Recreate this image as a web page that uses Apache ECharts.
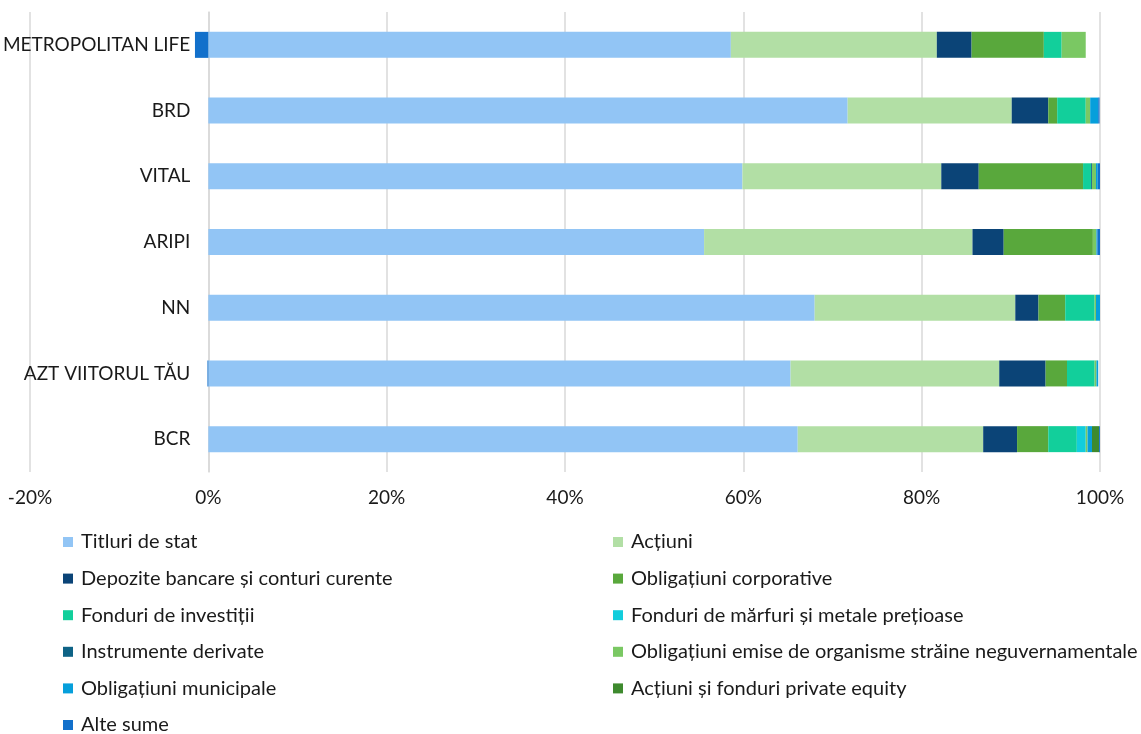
<!DOCTYPE html>
<html>
<head>
<meta charset="utf-8">
<script src="https://cdn.jsdelivr.net/npm/echarts@6/dist/echarts.min.js"></script>
<style>
  html, body { margin: 0; padding: 0; background: #ffffff; }
  #chart { width: 1141px; height: 734px; }
</style>
</head>
<body>
<div id="chart"></div>
<script>
// Pension funds, asset structure (% of total), top to bottom
const categories = ['METROPOLITAN LIFE', 'BRD', 'VITAL', 'ARIPI', 'NN', 'AZT VIITORUL TĂU', 'BCR'];

const titluriDeStat      = [58.6, 71.7, 59.9, 55.6, 68.0, 65.3, 66.1];
const actiuni            = [23.1, 18.4, 22.3, 30.1, 22.5, 23.4, 20.8];
const depozite           = [3.9, 4.1, 4.2, 3.5, 2.6, 5.2, 3.8];
const obligCorporative   = [8.1, 1.0, 11.7, 10.0, 3.0, 2.4, 3.5];
const fonduriInvestitii  = [2.0, 3.2, 0.9, 0, 3.3, 3.1, 3.2];
const fonduriMarfuri     = [0, 0, 0, 0, 0, 0, 1.0];
const instrumenteDerivate = [0, 0, 0.1, 0, 0, 0, 0];
const obligStraine       = [2.7, 0.5, 0.45, 0.4, 0.15, 0.2, 0.2];
const obligMunicipale    = [0, 0.9, 0.2, 0.1, 0.5, 0.2, 0.5];
const privateEquity      = [0, 0, 0, 0, 0, 0, 0.8];
const alteSume           = [-1.5, 0.15, 0.25, 0.3, 0, -0.1, 0.1];

const xTicks = [-20, 0, 20, 40, 60, 80, 100];

const seriesDefs = [
  { name: 'Titluri de stat', data: titluriDeStat, color: '#92C5F5' },
  { name: 'Acțiuni', data: actiuni, color: '#B2DFA5' },
  { name: 'Depozite bancare și conturi curente', data: depozite, color: '#0B4477' },
  { name: 'Obligațiuni corporative', data: obligCorporative, color: '#59A83C' },
  { name: 'Fonduri de investiții', data: fonduriInvestitii, color: '#12CF9B' },
  { name: 'Fonduri de mărfuri și metale prețioase', data: fonduriMarfuri, color: '#12CDDC' },
  { name: 'Instrumente derivate', data: instrumenteDerivate, color: '#0E6386' },
  { name: 'Obligațiuni emise de organisme străine neguvernamentale', data: obligStraine, color: '#7AC863' },
  { name: 'Obligațiuni municipale', data: obligMunicipale, color: '#069FDB' },
  { name: 'Acțiuni și fonduri private equity', data: privateEquity, color: '#3E8A2E' },
  { name: 'Alte sume', data: alteSume, color: '#1270CB' }
];

const FONT = 'Lato';
const textColor = '#1a1a1a';

// plot area
const GRID = { left: 30, right: 41, top: 12, bottom: 262 };
const plotWidth = 1141 - GRID.left - GRID.right;
const zeroOffset = plotWidth * (0 - xTicks[0]) / (xTicks[xTicks.length - 1] - xTicks[0]);

// legend: two columns, entries alternate left / right
const legendCols = [63, 613];
const legendRowTop = 532;
const legendRowStep = 36.6;
const legends = seriesDefs.map((s, i) => ({
  orient: 'horizontal',
  icon: 'rect',
  itemWidth: 10,
  itemHeight: 10,
  padding: 0,
  selectedMode: false,
  left: legendCols[i % 2],
  top: legendRowTop + Math.floor(i / 2) * legendRowStep,
  textStyle: { fontFamily: FONT, fontSize: 20, color: textColor, lineHeight: 20, padding: [0, 0, 0, 3] },
  data: [s.name]
}));

const chart = echarts.init(document.getElementById('chart'), null, { renderer: 'canvas' });

chart.setOption({
  backgroundColor: '#ffffff',
  animation: false,
  color: seriesDefs.map(s => s.color),
  grid: Object.assign({ containLabel: false, outerBoundsMode: 'none' }, GRID),
  legend: legends,
  xAxis: {
    type: 'value',
    min: xTicks[0],
    max: xTicks[xTicks.length - 1],
    interval: 20,
    axisLine: { show: false },
    axisTick: { show: false },
    splitLine: { show: true, lineStyle: { color: '#d9d9d9', width: 1.5 } },
    axisLabel: {
      fontFamily: FONT, fontSize: 19, color: textColor, margin: 16,
      formatter: v => v + '%'
    }
  },
  yAxis: {
    type: 'category',
    data: categories,
    inverse: true,
    offset: -zeroOffset,
    axisLine: { show: true, onZero: false, lineStyle: { color: '#d9d9d9', width: 1.5 } },
    axisTick: { show: false },
    axisLabel: { fontFamily: FONT, fontSize: 19, color: textColor, margin: 18 }
  },
  series: seriesDefs.map(s => ({
    name: s.name,
    type: 'bar',
    stack: 'total',
    barWidth: 26,
    data: s.data,
    itemStyle: { color: s.color }
  }))
});
</script>
</body>
</html>
